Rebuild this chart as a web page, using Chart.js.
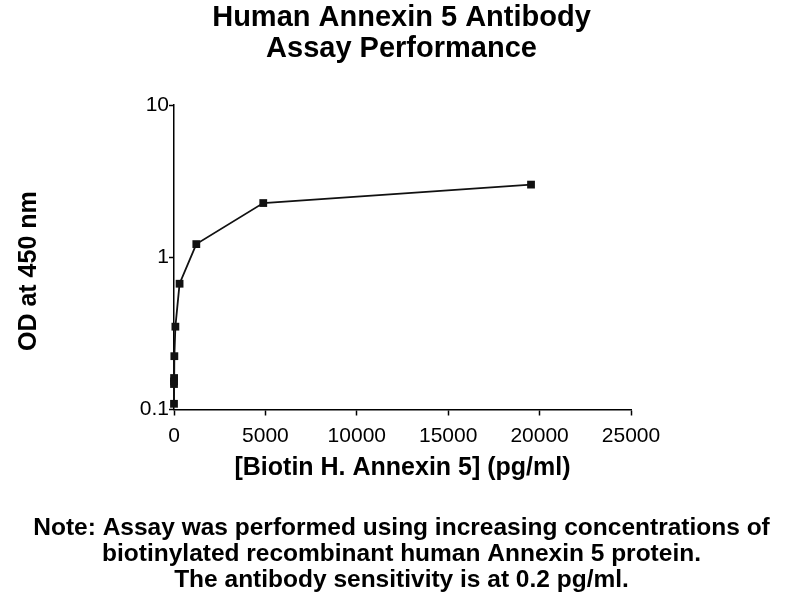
<!DOCTYPE html>
<html>
<head>
<meta charset="utf-8">
<title>Human Annexin 5 Antibody Assay Performance</title>
<script src="https://cdn.jsdelivr.net/npm/chart.js@4.4.1/dist/chart.umd.min.js"></script>
<style>
  html, body { margin: 0; padding: 0; background: #fff; }
  #chart { display: block; }
</style>
</head>
<body>
<canvas id="chart" width="800" height="600"></canvas>
<script>
// concentration (pg/ml) and OD at 450 nm
var concentrations = [19531, 4883, 1221, 305, 76, 19, 4.8, 1.2, 0.3, 0];
var odValues = [3.0, 2.27, 1.22, 0.67, 0.35, 0.224, 0.161, 0.153, 0.147, 0.109];

var xTicks = [0, 5000, 10000, 15000, 20000, 25000];
var yTicks = [0.1, 1, 10];

var titleLines = ["Human Annexin 5 Antibody", "Assay Performance"];
var noteLines = [
    "Note: Assay was performed using increasing concentrations of",
    "biotinylated recombinant human Annexin 5 protein.",
    "The antibody sensitivity is at 0.2 pg/ml."
];

var FONT = "'Liberation Sans', Arial, Helvetica, sans-serif";

var points = [];
for (var i = 0; i < concentrations.length; i++) {
    points.push({ x: concentrations[i], y: odValues[i] });
}

var ctx = document.getElementById('chart').getContext('2d');
var chart = new Chart(ctx, {
    type: 'line',
    data: {
        datasets: [{
            data: points,
            borderColor: '#111',
            borderWidth: 1.8,
            backgroundColor: '#111',
            pointStyle: 'rect',
            pointRadius: 5.5,
            pointBorderWidth: 0,
            pointBackgroundColor: '#111',
            tension: 0,
            clip: false
        }]
    },
    options: {
        responsive: false,
        animation: false,
        devicePixelRatio: 1,
        layout: { padding: { left: 3, right: 0, top: 0, bottom: 7 } },
        plugins: {
            legend: { display: false },
            tooltip: { enabled: false },
            title: {
                display: true,
                text: titleLines,
                color: '#000',
                font: { family: FONT, size: 29, weight: 'bold', lineHeight: 31 / 29 },
                padding: { top: 2, bottom: 41 }
            },
            subtitle: {
                display: true,
                position: 'bottom',
                text: noteLines,
                color: '#000',
                font: { family: FONT, size: 24.5, weight: 'bold', lineHeight: 26 / 24.5 },
                padding: { top: 0, bottom: 0 }
            }
        },
        scales: {
            x: {
                type: 'linear',
                min: 0,
                max: 25000,
                afterBuildTicks: function (s) {
                    s.ticks = xTicks.map(function (v) { return { value: v }; });
                },
                afterFit: function (s) { s.height = 105.5; },
                ticks: {
                    color: '#000',
                    font: { family: FONT, size: 21 },
                    padding: 8,
                    maxRotation: 0,
                    autoSkip: false,
                    callback: function (v) { return String(v); }
                },
                grid: {
                    display: true,
                    drawOnChartArea: false,
                    drawTicks: true,
                    tickLength: 6,
                    tickColor: '#000',
                    tickWidth: 1.5
                },
                border: { display: true, color: '#000', width: 1.5 },
                title: {
                    display: true,
                    text: '[Biotin H. Annexin 5] (pg/ml)',
                    color: '#000',
                    font: { family: FONT, size: 25, weight: 'bold', lineHeight: 1.2 },
                    padding: { top: 0, bottom: 31.5 }
                }
            },
            y: {
                type: 'logarithmic',
                min: 0.1,
                max: 10,
                afterBuildTicks: function (s) {
                    s.ticks = yTicks.map(function (v) { return { value: v }; });
                },
                afterFit: function (s) { s.width = 171; },
                ticks: {
                    color: '#000',
                    font: { family: FONT, size: 21 },
                    padding: 0,
                    autoSkip: false,
                    callback: function (v) { return String(v); }
                },
                grid: {
                    display: true,
                    drawOnChartArea: false,
                    drawTicks: true,
                    tickLength: 5,
                    tickColor: '#000',
                    tickWidth: 1.5
                },
                border: { display: true, color: '#000', width: 1.5 },
                title: {
                    display: true,
                    text: 'OD at 450 nm    ',
                    color: '#000',
                    font: { family: FONT, size: 25, weight: 'bold', lineHeight: 1.2 },
                    padding: { top: 11, bottom: 0 }
                }
            },
            yRight: {
                type: 'linear',
                position: 'right',
                display: true,
                afterFit: function (s) { s.width = 169; },
                ticks: { display: false },
                grid: { display: false },
                border: { display: false },
                title: { display: false }
            }
        }
    }
});
</script>
</body>
</html>
